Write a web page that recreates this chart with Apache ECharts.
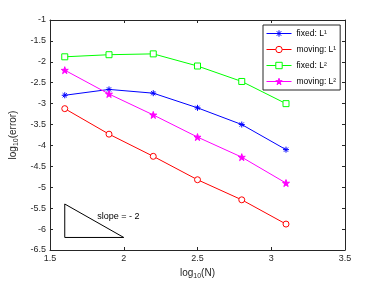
<!DOCTYPE html>
<html><head><meta charset="utf-8">
<script src="https://cdn.jsdelivr.net/npm/echarts@6/dist/echarts.min.js"></script>
<style>html,body{margin:0;padding:0;background:#fff}#c{width:380px;height:285px}</style>
</head><body><div id="c"></div>
<script>
const logN = [1.6, 1.9, 2.2, 2.5, 2.8, 3.1];
const fixedL1 = [-2.8, -2.66, -2.75, -3.1, -3.5, -4.1];
const movingL1 = [-3.12, -3.73, -4.26, -4.82, -5.3, -5.88];
const fixedL2 = [-1.88, -1.83, -1.81, -2.1, -2.47, -3.0];
const movingL2 = [-2.2, -2.77, -3.27, -3.8, -4.28, -4.9];
const triX = [1.6, 1.6, 2.0, 1.6];
const triY = [-5.4, -6.2, -6.2, -5.4];
const slopeText = 'slope = - 2';
const slopePos = [1.82, -5.7];
const names = ['fixed: L\u00b9', 'moving: L\u00b9', 'fixed: L\u00b2', 'moving: L\u00b2'];

const pair = ys => logN.map((x, i) => [x, ys[i]]);
const font = 'Liberation Sans, Arial, sans-serif';
const axisCol = '#262626';
const asterisk = 'path://M5,0L5,10M0,5L10,5M1.5,1.5L8.5,8.5M1.5,8.5L8.5,1.5';
const star = 'path://M5,0L6.18,3.63L10,3.63L6.91,5.88L8.09,9.51L5,7.27L1.91,9.51L3.09,5.88L0,3.63L3.82,3.63Z';

function mk(name, data, color, symbol, size, filled) {
  return {
    name, type: 'line', data: pair(data), symbol, symbolSize: size,
    lineStyle: { color, width: 1 },
    itemStyle: { color: filled ? color : '#fff', borderColor: color, borderWidth: 1 },
    emphasis: { disabled: true }, z: 3
  };
}

const chart = echarts.init(document.getElementById('c'), null, { renderer: 'canvas' });
const baseAxis = {
  axisLine: { show: true, onZero: false, lineStyle: { color: axisCol, width: 1 } },
  axisTick: { show: true, inside: true, length: 3, lineStyle: { color: axisCol } },
  splitLine: { show: false },
};
chart.setOption({
  animation: false,
  textStyle: { fontFamily: font },
  grid: { left: 50, right: 35, top: 20, bottom: 35, show: false },
  legend: {
    orient: 'vertical', left: 263, top: 25,
    data: names, itemWidth: 25, itemHeight: 8, itemGap: 7,
    padding: [4, 4, 4, 3], borderColor: axisCol, borderWidth: 1, backgroundColor: '#fff',
    lineStyle: { width: 1 },
    itemStyle: { borderWidth: 1 },
    textStyle: { fontSize: 8.5, color: '#000', fontFamily: font }, selectedMode: false
  },
  xAxis: [
    Object.assign({}, baseAxis, {
      type: 'value', min: 1.5, max: 3.5, interval: 0.5, position: 'bottom',
      axisLabel: { fontSize: 9, color: axisCol, margin: 4 },
      name: '{a|log}{b|10}{a|(N)}', nameLocation: 'middle', nameGap: 17,
      nameTextStyle: { rich: { a: { fontSize: 10, color: axisCol }, b: { fontSize: 7, color: axisCol, verticalAlign: 'bottom', padding: [6, 0, 0, 0] } } }
    }),
    Object.assign({}, baseAxis, {
      type: 'value', min: 1.5, max: 3.5, interval: 0.5, position: 'top',
      axisLabel: { show: false }
    })
  ],
  yAxis: [
    Object.assign({}, baseAxis, {
      type: 'value', min: -6.5, max: -1, interval: 0.5, position: 'left',
      axisLabel: { fontSize: 9, color: axisCol, margin: 4 },
      name: '{a|log}{b|10}{a|(error)}', nameLocation: 'middle', nameGap: 27,
      nameTextStyle: { rich: { a: { fontSize: 10, color: axisCol }, b: { fontSize: 7, color: axisCol, verticalAlign: 'bottom', padding: [6, 0, 0, 0] } } }
    }),
    Object.assign({}, baseAxis, {
      type: 'value', min: -6.5, max: -1, interval: 0.5, position: 'right',
      axisLabel: { show: false }
    })
  ],
  series: [
    mk(names[0], fixedL1, '#0000ff', asterisk, 6, false),
    mk(names[1], movingL1, '#ff0000', 'circle', 6, false),
    mk(names[2], fixedL2, '#00ff00', 'rect', 6, false),
    mk(names[3], movingL2, '#ff00ff', star, 7, true),
    {
      type: 'line', data: triX.map((x, i) => [x, triY[i]]), symbol: 'none',
      lineStyle: { color: '#000', width: 1 }, silent: true, z: 2
    },
    {
      type: 'scatter', data: [slopePos], symbolSize: 0, silent: true,
      label: { show: true, formatter: slopeText, position: 'right', distance: 0, fontSize: 9, color: '#000', opacity: 1 }
    }
  ]
});
</script></body></html>
